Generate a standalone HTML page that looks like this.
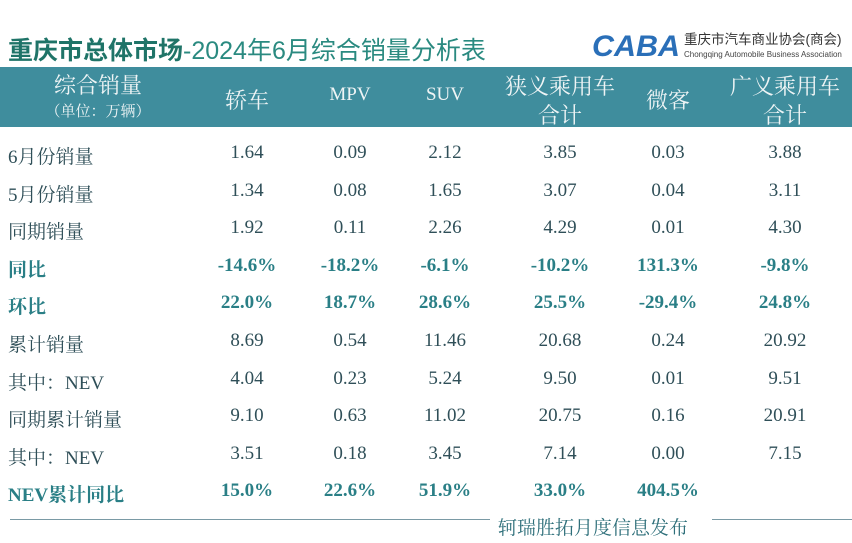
<!DOCTYPE html>
<html><head><meta charset="utf-8"><style>
body{margin:0;width:852px;height:543px;background:#fff;position:relative;overflow:hidden;font-family:"Liberation Serif","Noto Serif CJK SC",serif;}
.t{position:absolute;white-space:nowrap;}
.c{transform:translateX(-50%);}
</style></head><body>
<div class="t" style="left:8px;top:31px;font-family:'Liberation Sans','Noto Sans CJK SC',sans-serif;font-size:25px;color:#2a8a80;"><b style="color:#1f7468">重庆市总体市场</b>-2024年6月综合销量分析表</div>
<div class="t" style="left:592px;top:22px;">
<svg width="92" height="42"><text x="0" y="34" font-family="Liberation Sans" font-weight="bold" font-size="30" fill="#2a6fb8" font-style="italic" textLength="88" lengthAdjust="spacingAndGlyphs">CABA</text></svg></div>
<div class="t" style="left:684px;top:28px;font-family:'Liberation Sans','Noto Sans CJK SC',sans-serif;font-size:13.5px;color:#333;">重庆市汽车商业协会(商会)</div>
<div class="t" style="left:684px;top:50px;font-family:'Liberation Sans',sans-serif;font-size:8px;color:#444;">Chongqing Automobile Business Association</div>
<div style="position:absolute;left:0;top:67px;width:852px;height:60px;background:#3f8d9d;"></div>
<div id="hdr"></div>
<div id="body"></div>
<div style="position:absolute;left:10px;top:519px;width:480px;height:1px;background:#7a9aa5;"></div>
<div style="position:absolute;left:712px;top:519px;width:140px;height:1px;background:#7a9aa5;"></div>
<div class="t" style="left:498px;top:513px;font-size:19px;color:#2e6f7a;">轲瑞胜拓月度信息发布</div>
<script>
const colX=[247,350,445,560,668,785];
const headers=[["轿车"],["MPV"],["SUV"],["狭义乘用车","合计"],["微客"],["广义乘用车","合计"]];
const rowLabels=["6月份销量","5月份销量","同期销量","同比","环比","累计销量","其中：NEV","同期累计销量","其中：NEV","NEV累计同比"];
const rowBold=[false,false,false,true,true,false,false,false,false,true];
const values=[
["1.64","0.09","2.12","3.85","0.03","3.88"],
["1.34","0.08","1.65","3.07","0.04","3.11"],
["1.92","0.11","2.26","4.29","0.01","4.30"],
["-14.6%","-18.2%","-6.1%","-10.2%","131.3%","-9.8%"],
["22.0%","18.7%","28.6%","25.5%","-29.4%","24.8%"],
["8.69","0.54","11.46","20.68","0.24","20.92"],
["4.04","0.23","5.24","9.50","0.01","9.51"],
["9.10","0.63","11.02","20.75","0.16","20.91"],
["3.51","0.18","3.45","7.14","0.00","7.15"],
["15.0%","22.6%","51.9%","33.0%","404.5%",""]];
const hdr=document.getElementById('hdr');
function mk(parent,txt,x,y,size,color,center,bold){const d=document.createElement('div');d.className='t'+(center?' c':'');d.textContent=txt;d.style.left=x+'px';d.style.top=y+'px';d.style.fontSize=size+'px';d.style.color=color;if(bold)d.style.fontWeight='bold';parent.appendChild(d);return d;}
let e=mk(hdr,"综合销量",98,69,22,"#eef4f5",true);


e=mk(hdr,"（单位：万辆）",98,100,15,"#eef4f5",true);


headers.forEach((h,i)=>{h.forEach((s,j)=>{const y=h.length==1?84:(j==0?70:99);const el=mk(hdr,s,colX[i],y,h.length==1&&/[A-Z]/.test(s)?19:22,"#eef4f5",true);

});});
const body=document.getElementById('body');
rowLabels.forEach((lab,r)=>{const y=142+r*37.6;const col=rowBold[r]?"#2a7f86":"#2f4f58";
const l=mk(body,lab,8,y,19,col,false,rowBold[r]);


values[r].forEach((v,i)=>{if(!v)return;const c=mk(body,v,colX[i],y,19,col,true,rowBold[r]);

});});
</script>
</body></html>
